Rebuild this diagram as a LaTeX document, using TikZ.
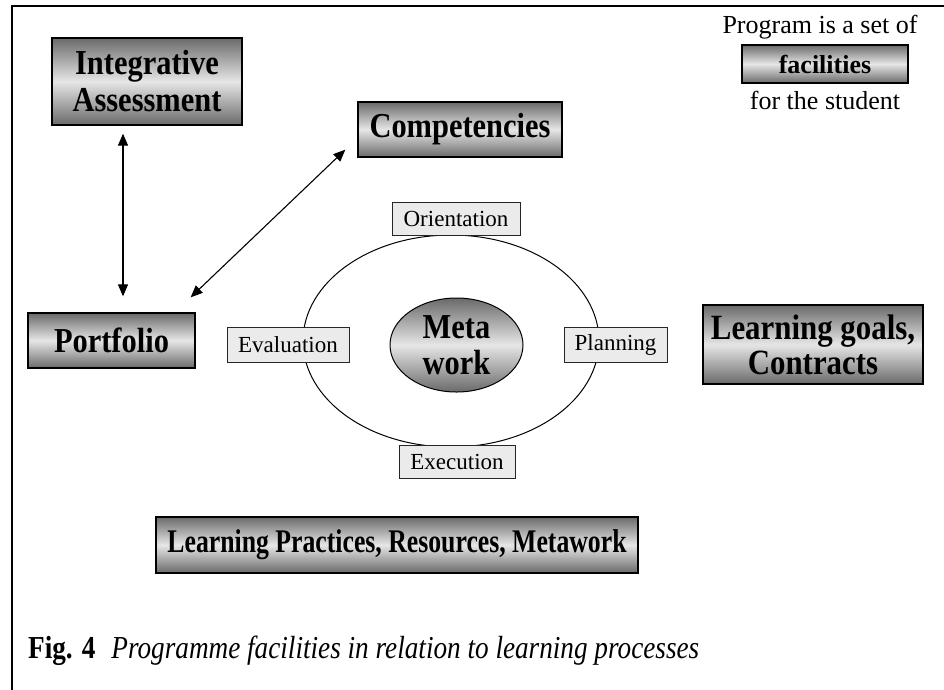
\documentclass[tikz,border=0pt]{standalone}
\usepackage{fontspec}
\setmainfont{Liberation Serif}
\newfontfamily\narrowserif[FakeStretch=0.87]{Liberation Serif}
\newfontfamily\tightserif[FakeStretch=0.78]{Liberation Serif}
\newfontfamily\capserif[FakeStretch=0.85]{Liberation Serif}
\usetikzlibrary{arrows.meta,shapes.geometric}
\definecolor{shadedark}{HTML}{6A6A6A}
\definecolor{shadelight}{HTML}{E6E6E6}
\definecolor{tagfill}{HTML}{EBEBEB}
\tikzset{
  facility/.style={draw=black, line width=1.3pt, top color=shadedark, bottom color=shadedark,
    middle color=shadelight, font=\narrowserif\bfseries\fontsize{35}{37}\selectfont, align=center, inner sep=0pt},
  phase/.style={draw=black!85, line width=0.9pt, fill=tagfill, font=\fontsize{23}{25}\selectfont, inner sep=0pt},
  link/.style={line width=1.1pt, {Triangle[length=12pt,width=10pt]}-{Triangle[length=12pt,width=10pt]}},
  plain/.style={font=\fontsize{26}{28}\selectfont, inner sep=0pt},
}
\begin{document}
\begin{tikzpicture}[x=1pt,y=-1pt]
\useasboundingbox (0,0) rectangle (944,689);
% open frame: left and top rules
\draw[line width=2pt] (12,700) -- (12,6) -- (950,6);

% facility boxes
\node[facility, minimum width=190pt, minimum height=87pt] (ia) at (147,81.5) {Integrative\\Assessment};
\node[facility, minimum width=204pt, minimum height=55pt] (comp) at (460,129.5) {Competencies};
\node[facility, minimum width=167pt, minimum height=55pt] (port) at (111.5,340.5) {Portfolio};
\node[facility, minimum width=220pt, minimum height=79pt, font=\narrowserif\bfseries\fontsize{35.5}{35}\selectfont] (goals) at (813,344.5) {Learning goals,\\Contracts};
\node[facility, minimum width=482pt, minimum height=56pt, font=\tightserif\bfseries\fontsize{33}{35}\selectfont] (pract) at (397,545) {Learning Practices, Resources, Metawork};

% legend in the corner
\node[plain] (leg1) at (820,27) {Program is a set of};
\node[facility, minimum width=166pt, minimum height=38pt, font=\bfseries\fontsize{26}{28}\selectfont] (fac) at (825,64) {facilities};
\node[plain] (leg2) at (825,100) {for the student};

% learning cycle
\node[ellipse, draw=black, line width=1pt, minimum width=296pt, minimum height=212pt, inner sep=0pt] (cycle) at (451,341) {};
\node[ellipse, draw=black, line width=1pt, top color=shadedark, bottom color=shadedark, middle color=shadelight,
  minimum width=133pt, minimum height=94pt, inner sep=0pt, align=center,
  font=\narrowserif\bfseries\fontsize{35}{36}\selectfont] (meta) at (456.5,345) {Meta\\work};
\node[phase, minimum width=128pt, minimum height=33pt] (orient) at (456,218.5) {Orientation};
\node[phase, minimum width=103pt, minimum height=35pt] (plan) at (615.5,344.5) {Planning};
\node[phase, minimum width=116pt, minimum height=33pt] (exec) at (457,461.5) {Execution};
\node[phase, minimum width=122pt, minimum height=35pt] (eval) at (288,344.5) {Evaluation};

% connectors
\draw[link] ([xshift=-24pt,yshift=-8pt]ia.south) -- ([xshift=11.5pt,yshift=16pt]port.north);
\draw[link] ([xshift=-5pt,yshift=15pt]port.north east) -- ([xshift=-12pt,yshift=8pt]comp.south west);

% caption
\node[anchor=base west, inner sep=0pt, font=\capserif\fontsize{32}{34}\selectfont] (cap) at (28,658)
  {\textbf{Fig. 4}\hspace{16pt}\textit{Programme facilities in relation to learning processes}};
\end{tikzpicture}
\end{document}
